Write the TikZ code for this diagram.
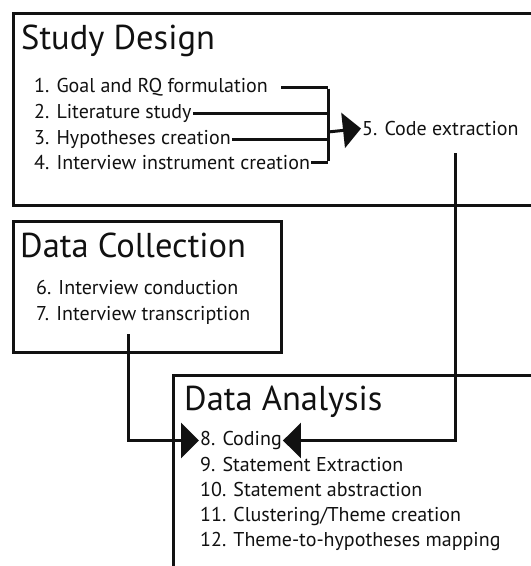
\documentclass[tikz,border=0pt]{standalone}
\usepackage{fontspec}
\setmainfont{PT Sans}
\usepackage{xcolor}
\usetikzlibrary{positioning,calc,arrows.meta}

\definecolor{ink}{HTML}{111111}

\tikzset{
    stagebox/.style={draw=ink, line width=3pt},
    stagetitle/.style={anchor=base west, inner sep=0pt, text=ink, font=\fontsize{34.5}{34.5}\selectfont},
    item/.style={anchor=mid west, inner sep=1pt, text=ink, font=\fontsize{20}{20}\selectfont},
    link/.style={draw=ink, line width=3pt},
    flow/.style={link, -{Triangle[length=18pt,width=35pt]}}
}

\begin{document}
\begin{tikzpicture}[x=1pt,y=-1pt]
    \useasboundingbox (0,0) rectangle (531,566);
    \clip (0,0) rectangle (531,566);

    % Study Design
    \draw[stagebox] (13,13) rectangle (560,205);
    \node[stagetitle] (sd) at (21,49) {Study Design};
    \node[item] (i1) at (33,90) {1. Goal and RQ formulation};
    \node[item] (i2) at (33,116) {2. Literature study};
    \node[item] (i3) at (33,142) {3. Hypotheses creation};
    \node[item] (i4) at (33,167) {4. Interview instrument creation};
    \node[item] (code) at (361,133) {5. Code extraction};

    \coordinate (join) at (328,132);
    \draw[link] ([xshift=12pt]i1.east) -- (i1.east -| join);
    \draw[link] (i2.east) -- (i2.east -| join);
    \draw[link] (i3.east) -- (i3.east -| join);
    \draw[link] (i4.east) -- (i4.east -| join);
    \draw[link] ([yshift=-1.5pt]i1.east -| join) -- ([yshift=1.5pt]i4.east -| join);
    \draw[flow] (join) -- (code.west);

    % Data Collection
    \draw[stagebox] (13,221) rectangle (281,352);
    \node[stagetitle] (dc) at (20,257) {Data Collection};
    \node[item] (i6) at (35,292) {6. Interview conduction};
    \node[item] (i7) at (35,318) {7. Interview transcription};

    % Data Analysis
    \draw[stagebox] (173,375) rectangle (560,600);
    \node[stagetitle] (da) at (184,410) {Data Analysis};
    \node[item] (coding) at (199,443) {8. Coding};
    \node[item] (i9) at (199,469) {9. Statement Extraction};
    \node[item] (i10) at (199,494) {10. Statement abstraction};
    \node[item] (i11) at (199,519) {11. Clustering/Theme creation};
    \node[item] (i12) at (199,544) {12. Theme-to-hypotheses mapping};

    % into coding
    \coordinate (tdrop) at (128,334);
    \coordinate (cdrop) at (455,153);
    \draw[flow] (tdrop) |- (coding.west);
    \draw[flow] (cdrop) |- (coding.east);
\end{tikzpicture}
\end{document}
